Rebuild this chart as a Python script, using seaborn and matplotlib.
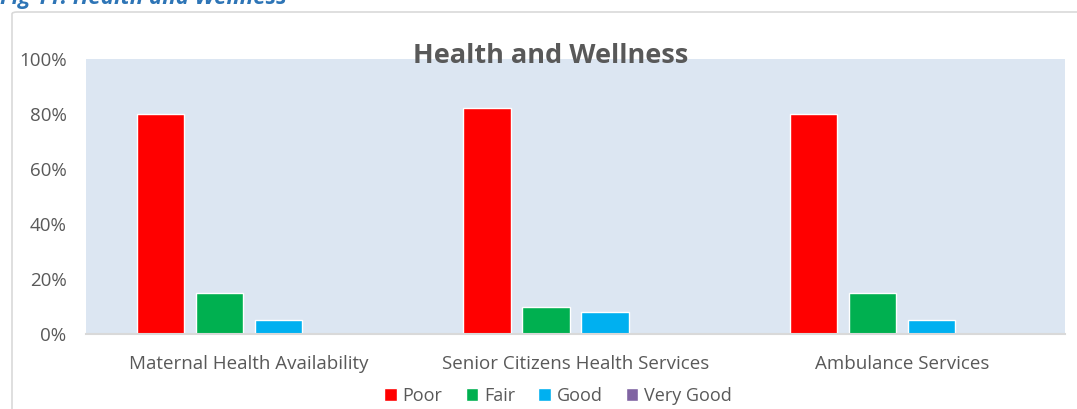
import pandas as pd
import matplotlib.pyplot as plt
import seaborn as sns
from matplotlib.patches import FancyBboxPatch

services = ['Maternal Health Availability', 'Senior Citizens Health Services', 'Ambulance Services']
ratings = ['Poor', 'Fair', 'Good', 'Very Good']
poor = [80, 82, 80]
fair = [15, 10, 15]
good = [5, 8, 5]
very_good = [0, 0, 0]
colors = ['#FF0000', '#00B050', '#00B0F0', '#8064A2']

rows = []
for i, s in enumerate(services):
    for r, vals in zip(ratings, [poor, fair, good, very_good]):
        rows.append({'service': s, 'rating': r, 'value': vals[i]})
df = pd.DataFrame(rows)

sns.set_theme(style='white')
plt.rcParams['font.family'] = ['Open Sans', 'DejaVu Sans']

fig = plt.figure(figsize=(10.77, 4.09), dpi=100)
ax = fig.add_axes([0.0799, 0.183, 0.909, 0.673])

# light border around the chart area
border = FancyBboxPatch((12 / 1077, -0.05), 1.1, 1 - 12 / 409 + 0.05,
                        boxstyle='round,pad=0,rounding_size=0.005',
                        transform=fig.transFigure, fill=False,
                        edgecolor='#D9D9D9', linewidth=1.2)
fig.patches.append(border)

sns.barplot(data=df, x='service', y='value', hue='rating', palette=colors,
            width=0.724, gap=0.2, ax=ax, legend=True, saturation=1)

ax.set_facecolor('#DCE6F2')
ax.set_ylim(0, 100)
ax.set_yticks([0, 20, 40, 60, 80, 100])
ax.set_yticklabels([f'{v}%' for v in [0, 20, 40, 60, 80, 100]])
ax.set_xlabel('')
ax.set_ylabel('')
ax.tick_params(axis='y', length=0, pad=14, labelsize=13.5, labelcolor='#595959')
ax.tick_params(axis='x', length=0, pad=15, labelsize=13.5, labelcolor='#595959')
for side in ['top', 'right', 'left']:
    ax.spines[side].set_visible(False)
ax.spines['bottom'].set_color('#D9D9D9')
ax.spines['bottom'].set_linewidth(1.5)

ax.set_title('Health and Wellness', fontsize=19.5, fontweight='bold',
             color='#595959', x=0.475, y=0.955)

ax.legend(loc='center', bbox_to_anchor=(0.482, -0.225), ncol=4,
          frameon=False, fontsize=13, handlelength=0.7, handleheight=0.7,
          handletextpad=0.3, columnspacing=1.3, labelcolor='#595959')

fig.text(0.0, 1.003, 'Fig 11: Health and Wellness', fontsize=16,
         fontweight='bold', style='italic', color='#2E75B6', va='center')

fig.savefig('out.png', dpi=100)
